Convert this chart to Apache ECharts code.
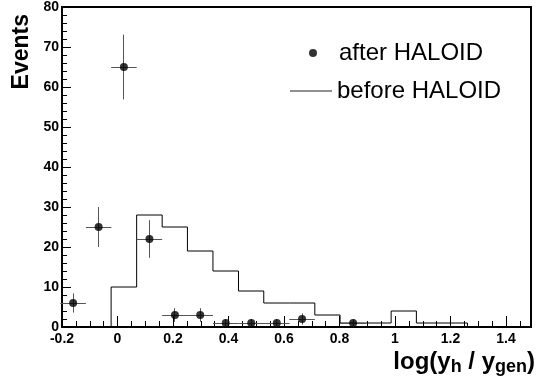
<!DOCTYPE html>
<html>
<head>
<meta charset="utf-8">
<script src="https://cdn.jsdelivr.net/npm/echarts@6/dist/echarts.min.js"></script>
<style>
  html, body { margin: 0; padding: 0; background: #fff; }
  #chart { width: 536px; height: 385px; }
</style>
</head>
<body>
<div id="chart"></div>
<script>
// Bin edges of the log(y_h / y_gen) histogram (first lower edge .. last upper edge)
const binEdges = [-0.023, 0.069, 0.161, 0.252, 0.344, 0.436, 0.527, 0.619, 0.711, 0.802, 0.894, 0.986, 1.077, 1.169, 1.261];
// Events per bin before the HALOID selection
const beforeCounts = [10, 28, 25, 19, 14, 9, 6, 6, 3, 1, 1, 4, 1, 1];

// Events after the HALOID selection: bin centres, counts and vertical errors
const afterX = [-0.160, -0.068, 0.023, 0.115, 0.207, 0.298, 0.390, 0.482, 0.574, 0.665, 0.849];
const afterCounts = [6, 25, 65, 22, 3, 3, 1, 1, 1, 2, 1];
const afterErr = [2.4, 5.0, 8.1, 4.7, 1.7, 1.7, 1.0, 1.0, 1.0, 1.4, 1.0];
const binHalfWidth = 0.046;

const FONT = '"Liberation Sans", Arial, Helvetica, sans-serif';

// Outline of the histogram as a closed step path
const stepPoints = [[binEdges[0], 0]];
beforeCounts.forEach((c, i) => {
  stepPoints.push([binEdges[i], c], [binEdges[i + 1], c]);
});
stepPoints.push([binEdges[binEdges.length - 1], 0]);

const chart = echarts.init(document.getElementById('chart'), null, { renderer: 'canvas' });

const crisp = v => Math.round(v - 0.5) + 0.5;

chart.setOption({
  animation: false,
  backgroundColor: '#fff',
  grid: {
    left: 62, right: 5, top: 7, bottom: 58,
    show: true, borderColor: '#000', borderWidth: 2,
    containLabel: false, outerBoundsMode: 'none'
  },
  legend: [
    {
      data: [{ name: 'after HALOID', icon: 'circle' }],
      left: 304, top: 36, orient: 'vertical',
      itemWidth: 42, itemHeight: 8, selectedMode: false,
      textStyle: { fontSize: 24, fontFamily: FONT, color: '#000' }
    },
    {
      data: [{ name: 'before HALOID', icon: 'rect' }],
      left: 285, top: 74, orient: 'vertical',
      itemWidth: 42, itemHeight: 1, selectedMode: false,
      itemStyle: { color: '#222' },
      textStyle: { fontSize: 24, fontFamily: FONT, color: '#000' }
    }
  ],
  xAxis: [
    {
      type: 'value', min: -0.2, max: 1.49, interval: 0.2, position: 'bottom',
      axisLine: { show: false, onZero: false }, splitLine: { show: false },
      axisTick: { inside: true, length: 11, lineStyle: { color: '#000', width: 1 } },
      axisLabel: {
        showMaxLabel: false, margin: 5,
        fontSize: 14, fontWeight: 'bold', fontFamily: FONT, color: '#000'
      },
      name: '{a|log(y}{s|h}{a| / y}{s|gen}{a|)}',
      nameLocation: 'end', nameGap: 4, nameMoveOverlap: false,
      nameTextStyle: {
        align: 'right', verticalAlign: 'top', padding: [23, 0, 0, 0],
        rich: {
          a: { fontSize: 24, fontWeight: 'bold', fontFamily: FONT, color: '#000', lineHeight: 26, verticalAlign: 'top' },
          s: { fontSize: 18, fontWeight: 'bold', fontFamily: FONT, color: '#000', lineHeight: 18, verticalAlign: 'bottom', padding: [15, 0, 0, 0] }
        }
      }
    },
    {
      // finer tick marks every 0.05
      type: 'value', min: -0.2, max: 1.49, interval: 0.05, position: 'bottom', offset: 0,
      axisLine: { show: false, onZero: false }, splitLine: { show: false }, axisLabel: { show: false },
      axisTick: { inside: true, length: 6, lineStyle: { color: '#000', width: 1 } }
    }
  ],
  yAxis: {
    type: 'value', min: 0, max: 80, interval: 10,
    axisLine: { show: false, onZero: false }, splitLine: { show: false },
    axisTick: { inside: true, length: 9, lineStyle: { color: '#000', width: 1 } },
    minorTick: { show: true, splitNumber: 5, length: 5, lineStyle: { color: '#000', width: 1 } },
    axisLabel: { margin: 3, fontSize: 14, fontWeight: 'bold', fontFamily: FONT, color: '#000' },
    name: 'Events', nameLocation: 'end', nameRotate: 90, nameGap: -7, nameMoveOverlap: false,
    nameTextStyle: {
      align: 'right', verticalAlign: 'bottom', padding: [0, 0, 29, 0],
      fontSize: 23, fontWeight: 'bold', fontFamily: FONT, color: '#000'
    }
  },
  series: [
    {
      name: 'before HALOID', type: 'line', data: stepPoints,
      symbol: 'none', color: '#000',
      lineStyle: { color: '#000', width: 1 }, z: 1
    },
    {
      name: 'error bars', type: 'custom',
      data: afterX.map((x, i) => [x, afterCounts[i], afterErr[i]]),
      renderItem: (params, api) => {
        const x = api.value(0), y = api.value(1), e = api.value(2);
        const l = api.coord([x - binHalfWidth, y]);
        const r = api.coord([x + binHalfWidth, y]);
        const t = api.coord([x, y + e]);
        const b = api.coord([x, Math.max(0, y - e)]);
        const st = { stroke: '#555', lineWidth: 1 };
        return {
          type: 'group',
          children: [
            { type: 'line', shape: { x1: l[0], y1: crisp(l[1]), x2: r[0], y2: crisp(r[1]) }, style: st },
            { type: 'line', shape: { x1: crisp(t[0]), y1: t[1], x2: crisp(b[0]), y2: b[1] }, style: st }
          ]
        };
      },
      z: 2
    },
    {
      name: 'after HALOID', type: 'scatter',
      data: afterX.map((x, i) => [x, afterCounts[i]]),
      symbol: 'circle', symbolSize: 8, color: '#000',
      itemStyle: { color: '#000' }, z: 3
    }
  ]
});
</script>
</body>
</html>
